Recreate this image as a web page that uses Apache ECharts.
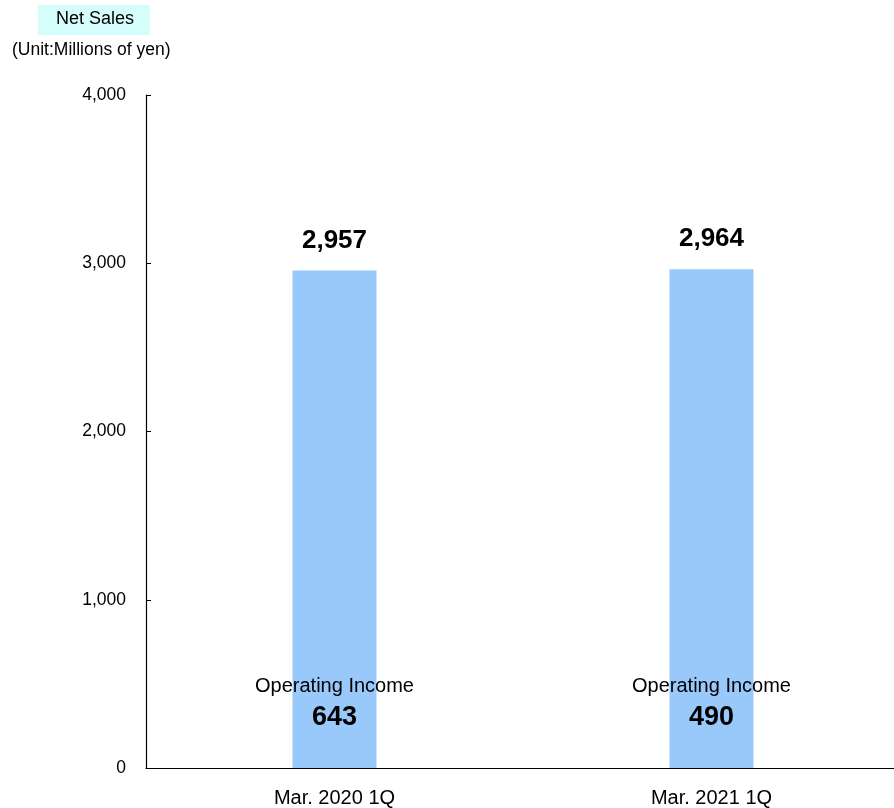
<!DOCTYPE html>
<html>
<head>
<meta charset="utf-8">
<script src="https://cdn.jsdelivr.net/npm/echarts@6/dist/echarts.min.js"></script>
<style>
  html, body { margin: 0; padding: 0; background: #fff; overflow: hidden; }
  #chart { width: 900px; height: 808px; }
</style>
</head>
<body>
<div id="chart"></div>
<script>
// Quarterly results (millions of yen)
const categories = ['Mar. 2020 1Q', 'Mar. 2021 1Q'];
const netSales = [2957, 2964];
const operatingIncome = [643, 490];
const yTicks = [0, 1000, 2000, 3000, 4000];

const FONT = '"Liberation Sans", Arial, sans-serif';
const fmt = v => v.toLocaleString('en-US');

const chart = echarts.init(document.getElementById('chart'));
chart.setOption({
  animation: false,
  textStyle: { fontFamily: FONT },
  graphic: [
    {
      type: 'rect', left: 38, top: 5,
      shape: { width: 112, height: 30 },
      style: { fill: '#d5fdfb' }
    },
    {
      type: 'text', left: 56, top: 10,
      style: { text: 'Net Sales', font: '18px ' + FONT, fill: '#000' }
    },
    {
      type: 'text', left: 12, top: 41,
      style: { text: '(Unit:Millions of yen)', font: '17.5px ' + FONT, fill: '#000' }
    }
  ],
  // the plot area runs slightly past the right edge of the page
  grid: { left: 146, top: 95, right: 0, bottom: 40, containLabel: false },
  xAxis: {
    type: 'category',
    data: categories,
    axisLine: { lineStyle: { color: '#000', width: 1.2 } },
    axisTick: { show: false },
    axisLabel: { color: '#000', fontSize: 20, margin: 20, fontFamily: FONT }
  },
  yAxis: {
    type: 'value',
    min: yTicks[0],
    max: yTicks[yTicks.length - 1],
    interval: 1000,
    axisLine: { show: true, lineStyle: { color: '#000', width: 1.2 } },
    axisTick: { show: true, inside: true, length: 5, lineStyle: { color: '#000' } },
    splitLine: { show: false },
    axisLabel: { color: '#000', fontSize: 17.5, margin: 20, fontFamily: FONT, formatter: v => fmt(v) }
  },
  series: [
    {
      name: 'Net Sales',
      type: 'bar',
      barWidth: 84,
      data: netSales,
      itemStyle: { color: '#99c8fa' },
      label: {
        show: true,
        position: 'top',
        distance: 17,
        color: '#000',
        fontSize: 26,
        fontWeight: 'bold',
        fontFamily: FONT,
        formatter: p => fmt(p.value)
      }
    },
    {
      name: 'Operating Income',
      type: 'bar',
      barWidth: 84,
      barGap: '-100%',
      data: operatingIncome,
      itemStyle: { color: 'rgba(0,0,0,0)' },
      silent: true,
      label: {
        show: true,
        position: 'insideBottom',
        distance: 33,
        formatter: p => '{t|Operating Income}\n{v|' + fmt(operatingIncome[p.dataIndex]) + '}',
        rich: {
          t: { fontSize: 20, color: '#000', fontFamily: FONT, lineHeight: 30 },
          v: { fontSize: 27, fontWeight: 'bold', color: '#000', fontFamily: FONT, lineHeight: 34 }
        }
      }
    }
  ]
});
</script>
</body>
</html>
